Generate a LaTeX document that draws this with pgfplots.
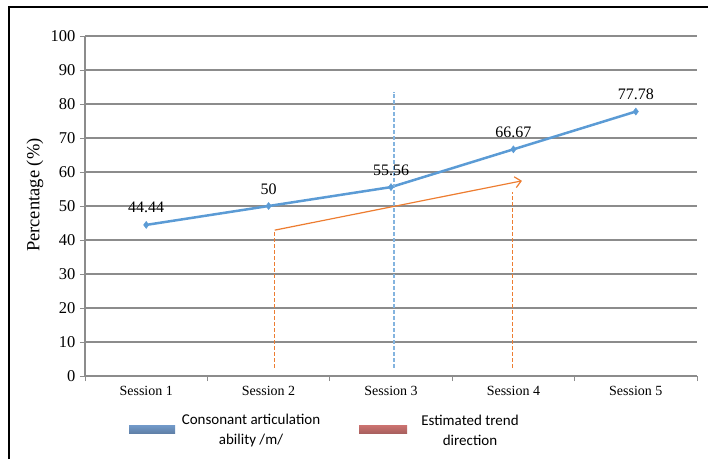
\documentclass[border=0pt]{standalone}
\usepackage{pgfplots}
\pgfplotsset{compat=1.18}
\usetikzlibrary{arrows.meta}
\usepackage{fontspec}
\setmainfont{Liberation Serif}
\newfontfamily\legendfont{Carlito}
\definecolor{lineblue}{HTML}{5B9BD5}
\definecolor{trendorange}{HTML}{ED7D31}
\definecolor{gridgray}{HTML}{8C8C8C}
\definecolor{legblue}{HTML}{4F81BD}
\definecolor{legred}{HTML}{C0504D}
\begin{document}
\begin{tikzpicture}[x=1pt,y=1pt]
\path[use as bounding box] (-85,-83) rectangle (623,376);
\draw[black, line width=1.3pt] (-76,-83) -- (-76,369) -- (623,369);
\begin{axis}[
  at={(0pt,0pt)}, anchor=origin,
  scale only axis, width=612pt, height=340pt,
  xmin=0.5, xmax=5.5, ymin=0, ymax=100,
  axis x line*=bottom, axis y line*=left,
  axis line style={gridgray, line width=1.3pt},
  ytick={0,10,...,100},
  xtick={1,2,3,4,5},
  xticklabels={Session 1,Session 2,Session 3,Session 4,Session 5},
  minor xtick={0.5,1.5,2.5,3.5,4.5,5.5},
  major x tick style={draw=none},
  minor x tick style={gridgray, line width=1pt},
  y tick style={gridgray, line width=1pt},
  tick align=outside,
  major tick length=5pt, minor tick length=5pt,
  ymajorgrids, grid style={gridgray, line width=1.4pt},
  /pgf/number format/assume math mode=true,
  yticklabel style={font=\fontsize{16.5}{19}\selectfont, xshift=-1pt},
  xticklabel style={font=\fontsize{14}{16}\selectfont, yshift=-2pt},
  ylabel={Percentage (\%)},
  ylabel style={at={(axis description cs:-0.0817,0.532)}, anchor=center, font=\fontsize{18.5}{21}\selectfont},
  clip=false,
]
\addplot[lineblue, line width=2.5pt, mark=diamond*, mark size=3.5pt,
  mark options={fill=lineblue, draw=lineblue, line width=0.5pt},
  nodes near coords,
  every node near coord/.append style={black, anchor=base, yshift=12pt, inner sep=0pt,
     font=\fontsize{16}{18}\selectfont},
  /pgf/number format/.cd, fixed, precision=2]
  coordinates {(1,44.44) (2,50) (3,55.56) (4,66.67) (5,77.78)};
% vertical dashed blue line at Session 3
\addplot[lineblue!75!white, line width=1.4pt, dash pattern=on 4pt off 2pt] coordinates {(3.025,2.4) (3.025,83.6)};
% orange estimated trend
\addplot[trendorange, line width=1.4pt, dash pattern=on 4pt off 2pt] coordinates {(2.05,2.4) (2.05,42.9)};
\addplot[trendorange, line width=1.2pt, -{Straight Barb[length=6pt,width=11pt]}] coordinates {(2.05,42.9) (4.07,57.4)};
\addplot[trendorange, line width=1.4pt, dash pattern=on 4pt off 2pt] coordinates {(3.995,2.4) (3.995,54.0)};
\end{axis}
% legend
\shade[top color=legblue!80!white, bottom color=legblue!65!gray] (44,-57) rectangle (90,-49);
\node[font=\legendfont\fontsize{15}{20}\selectfont, align=center] at (166,-54) {Consonant articulation\\ability /m/};
\shade[top color=legred!80!white, bottom color=legred!65!gray] (274,-57) rectangle (322,-49);
\node[font=\legendfont\fontsize{15}{20}\selectfont, align=center] at (385,-54) {Estimated trend\\direction};
\end{tikzpicture}
\end{document}
